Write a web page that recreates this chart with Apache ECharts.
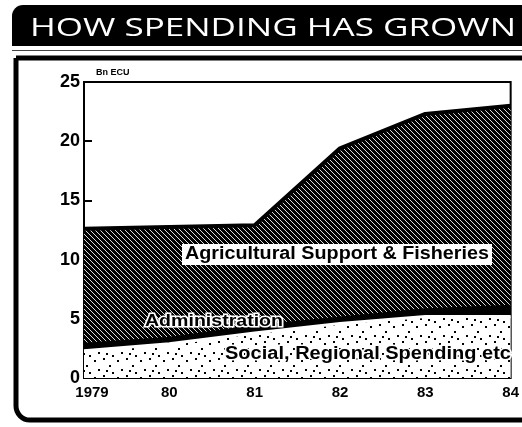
<!DOCTYPE html>
<html><head><meta charset="utf-8">
<script src="https://cdn.jsdelivr.net/npm/echarts@6/dist/echarts.min.js"></script>
<style>html,body{margin:0;padding:0;background:#fff}#c{width:522px;height:427px}</style>
</head><body><div id="c"></div>
<script>
const years = ['1979','80','81','82','83','84'];
const social = [2.3, 2.9, 3.8, 4.6, 5.2, 5.2];
const admin = [0.6, 0.5, 0.6, 0.5, 0.6, 0.9];
const agri = [9.7, 9.35, 8.5, 14.3, 16.5, 16.9];
const yTicks = [0, 5, 10, 15, 20, 25];
const titleText = 'HOW SPENDING HAS GROWN';
const agriLabel = 'Agricultural Support & Fisheries';
const adminLabel = 'Administration';
const socialLabel = 'Social, Regional Spending etc';

function hatch() {
  const c = document.createElement('canvas'); c.width = 5; c.height = 5;
  const g = c.getContext('2d');
  g.fillStyle = '#000'; g.fillRect(0,0,5,5);
  g.fillStyle = '#ddd';
  for (let i = 0; i < 5; i++) g.fillRect(i, i, 1, 1);
  return c;
}
function dots() {
  const c = document.createElement('canvas'); c.width = 23; c.height = 17;
  const g = c.getContext('2d');
  g.fillStyle = '#fff'; g.fillRect(0,0,23,17);
  g.fillStyle = '#000';
  [[2,3],[11,1],[17,8],[6,12],[20,15],[14,13]].forEach(p => g.fillRect(p[0], p[1], 2, 2));
  return c;
}
const mc = document.createElement('canvas').getContext('2d');
function fitScale(text, font, target) { mc.font = font; return target / mc.measureText(text).width; }

const font = '"Liberation Sans", Arial, sans-serif';
const tFont = '26px "Open Sans", sans-serif';
const aFont = 'bold 18px "Liberation Sans", sans-serif';
const dFont = 'bold 17px "Liberation Sans", sans-serif';
const sFont = 'bold 18px "Liberation Sans", sans-serif';

const chart = echarts.init(document.getElementById('c'), null, {renderer: 'canvas'});
chart.setOption({
  animation: false,
  backgroundColor: '#fff',
  grid: {left: 84, right: 5, top: 82, bottom: 49, show: true, borderColor: '#000', borderWidth: 2, backgroundColor: 'transparent'},
  xAxis: {
    type: 'category', data: years, boundaryGap: false,
    axisLine: {show: false}, axisTick: {show: false},
    axisLabel: {color: '#000', fontFamily: font, fontWeight: 'bold', fontSize: 15, margin: 7,
      formatter: (v, i) => i === 0 ? '{a|' + v + '}' : v,
      rich: {a: {color: '#000', fontFamily: font, fontWeight: 'bold', fontSize: 15, padding: [0,0,0,16]}}}
  },
  yAxis: {
    type: 'value', min: 0, max: 25, interval: 5,
    name: 'Bn ECU', nameLocation: 'end', nameGap: 5,
    nameTextStyle: {color: '#000', fontFamily: font, fontWeight: 'bold', fontSize: 9, align: 'left', padding: [0,0,0,12]},
    splitLine: {show: false},
    axisLine: {show: true, lineStyle: {color: '#000', width: 2}},
    axisTick: {show: true, inside: true, length: 8, lineStyle: {color: '#000', width: 2}},
    axisLabel: {color: '#000', fontFamily: font, fontWeight: 'bold', fontSize: 18, margin: 4,
      formatter: v => yTicks.indexOf(v) >= 0 ? String(v) : ''}
  },
  series: [
    {name: socialLabel, type: 'line', stack: 't', data: social, symbol: 'none', z: 5,
      lineStyle: {color: '#fff', width: 3}, areaStyle: {color: {image: dots(), repeat: 'repeat'}, opacity: 1}},
    {name: adminLabel, type: 'line', stack: 't', data: admin, symbol: 'none', z: 3,
      lineStyle: {color: '#000', width: 2}, areaStyle: {color: '#000', opacity: 1}},
    {name: agriLabel, type: 'line', stack: 't', data: agri, symbol: 'none', z: 3,
      lineStyle: {color: '#000', width: 4}, areaStyle: {color: {image: hatch(), repeat: 'repeat'}, opacity: 1}}
  ],
  graphic: [
    {type: 'rect', z: 10, shape: {x: 12, y: 5, width: 520, height: 41, r: [11,0,0,0]}, style: {fill: '#000'}},
    {type: 'text', z: 11, x: 30, y: 16, scaleX: fitScale(titleText, tFont, 486), style: {text: titleText, fill: '#fff', font: tFont}},
    {type: 'line', z: 10, shape: {x1: 12, y1: 50.5, x2: 522, y2: 50.5}, style: {stroke: '#444', lineWidth: 1}},
    {type: 'rect', z: 10, shape: {x: 16, y: 58, width: 530, height: 362, r: [0,0,0,14]}, style: {fill: 'none', stroke: '#000', lineWidth: 5}},
    {type: 'rect', z: 19, shape: {x: 182, y: 244, width: 310, height: 21}, style: {fill: '#fff'}},
    {type: 'text', z: 20, x: 185, y: 245, scaleX: fitScale(agriLabel, aFont, 304), style: {text: agriLabel, fill: '#000', font: aFont}},
    {type: 'text', z: 20, x: 145, y: 313, scaleX: fitScale(adminLabel, dFont, 138), style: {text: adminLabel, fill: '#000', font: dFont, stroke: '#fff', lineWidth: 3}},
    {type: 'text', z: 20, x: 225, y: 345, scaleX: fitScale(socialLabel, sFont, 286), style: {text: socialLabel, fill: '#000', font: sFont, stroke: '#fff', lineWidth: 3}}
  ]
});
</script></body></html>
